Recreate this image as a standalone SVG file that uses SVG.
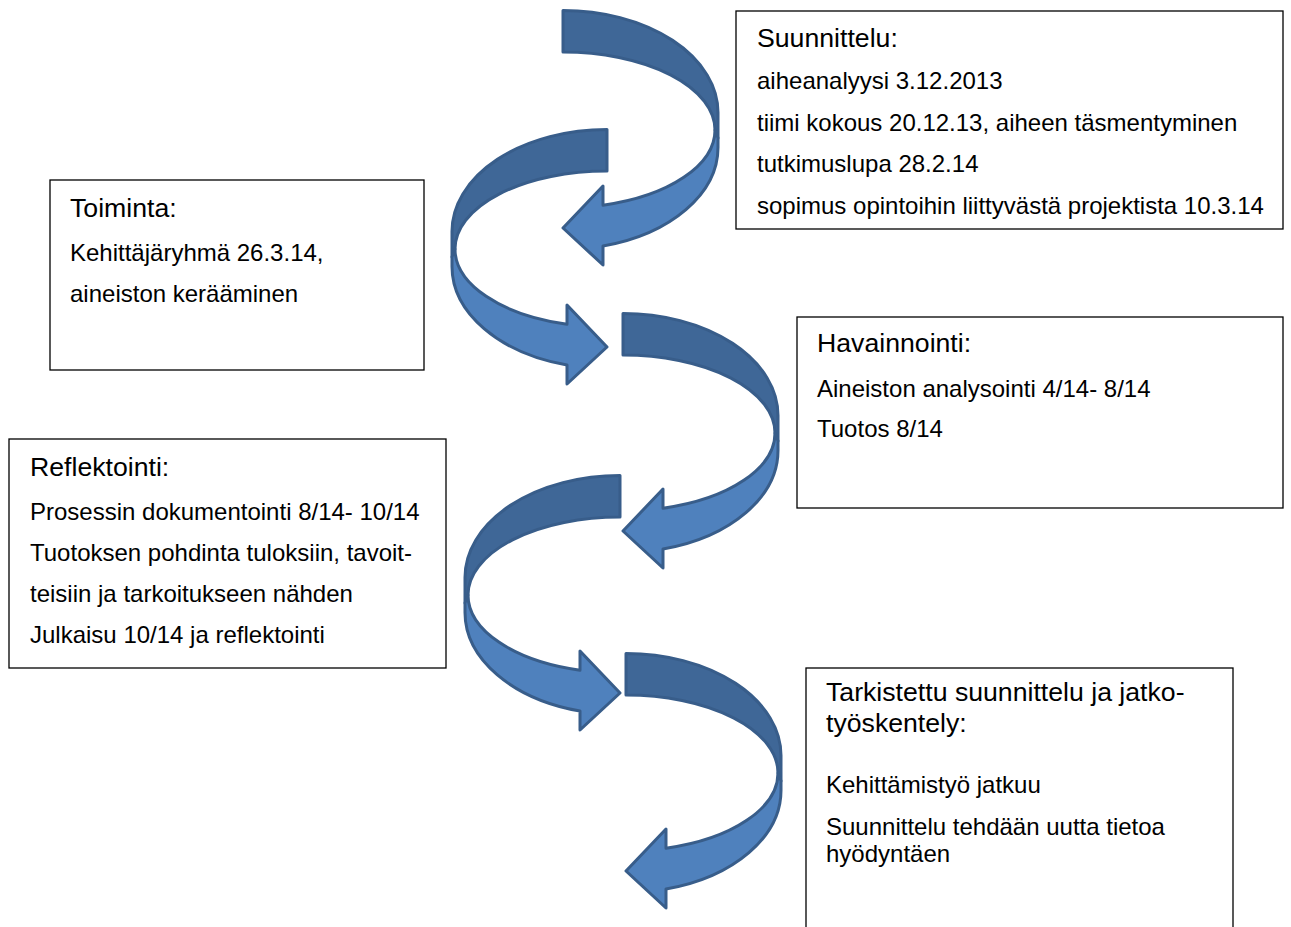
<svg xmlns="http://www.w3.org/2000/svg" width="1291" height="927" viewBox="0 0 1291 927">
<style>
.box{fill:#fff;stroke:#000;stroke-width:1.3}
.t{font-family:"Liberation Sans",Arial,sans-serif;font-size:26.67px;fill:#000}
.b{font-family:"Liberation Sans",Arial,sans-serif;font-size:24px;fill:#000}
.dk{fill:#3F6797;stroke:#385D8A;stroke-width:3;stroke-linejoin:round}
.lt{fill:#4F81BD;stroke:#385D8A;stroke-width:3;stroke-linejoin:round}
</style>
<defs>
<g id="carrow">
<path class="dk" d="M0,-119.5 A155 102 0 0 1 155,-17.5 L155,8 L152,0 A152 78 0 0 0 0,-78 Z"/>
<path class="lt" d="M152,0 L155,8 L155,17.5 A155 102 0 0 1 40,116.05 L40,135 L0,98 L40,56 L40,75.25 A152 78 0 0 0 152,0 Z"/>
</g>
</defs>
<rect width="1291" height="927" fill="#fff"/>
<g id="connectors">
<use href="#carrow" transform="translate(563,130)"/>
<use href="#carrow" transform="translate(607,249) scale(-1,1)"/>
<use href="#carrow" transform="translate(623,433)"/>
<use href="#carrow" transform="translate(620,595) scale(-1,1)"/>
<use href="#carrow" transform="translate(626,773)"/>
</g>
<g id="suunnittelu">
<rect class="box" x="736" y="11" width="547" height="218"/>
<text class="t" x="757" y="47">Suunnittelu:</text>
<text class="b" x="757" y="89">aiheanalyysi 3.12.2013</text>
<text class="b" x="757" y="131">tiimi kokous 20.12.13, aiheen täsmentyminen</text>
<text class="b" x="757" y="172">tutkimuslupa 28.2.14</text>
<text class="b" x="757" y="214">sopimus opintoihin liittyvästä projektista 10.3.14</text>
</g>
<g id="toiminta">
<rect class="box" x="50" y="180" width="374" height="190"/>
<text class="t" x="70" y="217">Toiminta:</text>
<text class="b" x="70" y="261">Kehittäjäryhmä 26.3.14,</text>
<text class="b" x="70" y="302">aineiston kerääminen</text>
</g>
<g id="havainnointi">
<rect class="box" x="797" y="317" width="486" height="191"/>
<text class="t" x="817" y="352">Havainnointi:</text>
<text class="b" x="817" y="397">Aineiston analysointi 4/14- 8/14</text>
<text class="b" x="817" y="437">Tuotos 8/14</text>
</g>
<g id="reflektointi">
<rect class="box" x="9" y="439" width="437" height="229"/>
<text class="t" x="30" y="476">Reflektointi:</text>
<text class="b" x="30" y="520">Prosessin dokumentointi 8/14- 10/14</text>
<text class="b" x="30" y="561">Tuotoksen pohdinta tuloksiin, tavoit-</text>
<text class="b" x="30" y="602">teisiin ja tarkoitukseen nähden</text>
<text class="b" x="30" y="643">Julkaisu 10/14 ja reflektointi</text>
</g>
<g id="tarkistettu">
<rect class="box" x="806" y="668" width="427" height="280"/>
<text class="t" x="826" y="701">Tarkistettu suunnittelu ja jatko-</text>
<text class="t" x="826" y="732">työskentely:</text>
<text class="b" x="826" y="793">Kehittämistyö jatkuu</text>
<text class="b" x="826" y="835">Suunnittelu tehdään uutta tietoa</text>
<text class="b" x="826" y="862">hyödyntäen</text>
</g>
</svg>
